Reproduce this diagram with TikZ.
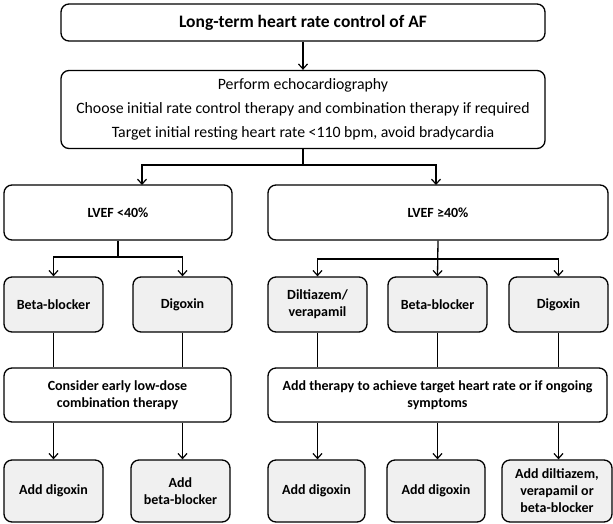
\documentclass[tikz,border=0pt]{standalone}
\usepackage{fontspec}
\setmainfont{Carlito}
\usetikzlibrary{arrows.meta}
\begin{document}
\begin{tikzpicture}[x=1pt,y=-1pt,
  box/.style={draw=black, line width=1.3pt, rounded corners=8pt, fill=white,
    align=center, inner sep=2pt, font=\bfseries\fontsize{14}{17}\selectfont},
  gbox/.style={box, fill=gray!12},
  conn/.style={line width=1.3pt},
  arr/.style={conn, -{Straight Barb[length=5pt,width=9pt,line width=1.2pt]}}
]
\useasboundingbox (0,0) rectangle (613,523);

\node[box, minimum width=484pt, minimum height=37pt, font=\bfseries\fontsize{17.5}{20}\selectfont] (top) at (303,22.5) {Long-term heart rate control of AF};
\node[box, minimum width=484pt, minimum height=78pt, font=\fontsize{15.8}{24}\selectfont] (echo) at (303,109.5)
  {Perform echocardiography\\Choose initial rate control therapy and combination therapy if required\\Target initial resting heart rate <110 bpm, avoid bradycardia};

\node[box, minimum width=228pt, minimum height=55pt] (lv1) at (118,212.5) {LVEF <40\%};
\node[box, minimum width=340pt, minimum height=55pt] (lv2) at (438,212.5) {LVEF ≥40\%};

\node[gbox, minimum width=99pt, minimum height=55pt] (bb1) at (53.5,304.5) {Beta-blocker};
\node[gbox, minimum width=99pt, minimum height=55pt] (dg1) at (182.5,304.5) {Digoxin};
\node[gbox, minimum width=99pt, minimum height=55pt] (dil) at (317.5,304.5) {Diltiazem/\\verapamil};
\node[gbox, minimum width=99pt, minimum height=55pt] (bb2) at (437.5,304.5) {Beta-blocker};
\node[gbox, minimum width=99pt, minimum height=55pt] (dg2) at (558.5,304.5) {Digoxin};

\node[box, minimum width=227pt, minimum height=54pt] (cons) at (117.5,395) {Consider early low-dose\\combination therapy};
\node[box, minimum width=339pt, minimum height=54pt] (addt) at (437.5,395) {Add therapy to achieve target heart rate or if ongoing\\symptoms};

\node[gbox, minimum width=99pt, minimum height=62pt] (a1) at (53.5,491) {Add digoxin};
\node[gbox, minimum width=99pt, minimum height=62pt] (a2) at (180.5,491) {Add\\beta-blocker};
\node[gbox, minimum width=97pt, minimum height=62pt] (a3) at (316.5,491) {Add digoxin};
\node[gbox, minimum width=98pt, minimum height=62pt] (a4) at (436,491) {Add digoxin};
\node[gbox, minimum width=110pt, minimum height=62pt] (a5) at (557,491) {Add diltiazem,\\verapamil or\\beta-blocker};

% connectors
\draw[arr] (top.south) -- (echo.north);

\coordinate (j1) at (303,165);
\coordinate (t1) at (142,185);
\coordinate (t2) at (436,185);
\draw[conn] (echo.south) -- (j1);
\draw[arr] (j1) -| (t1);
\draw[arr] (j1) -| (t2);

\coordinate (j2) at (118,257);
\draw[conn] (lv1.south) -- (j2);
\draw[arr] (j2) -| (bb1.north);
\draw[arr] (j2) -| (dg1.north);

\coordinate (j3) at (438,259);
\draw[arr] (lv2.south) -- (bb2.north);
\draw[arr] (j3) -| (dil.north);
\draw[arr] (j3) -| (dg2.north);

\draw[conn] (bb1.south) -- (bb1.south |- cons.north);
\draw[conn] (dg1.south) -- (dg1.south |- cons.north);
\draw[conn] (dil.south) -- (dil.south |- addt.north);
\draw[conn] (bb2.south) -- (bb2.south |- addt.north);
\draw[conn] (dg2.south) -- (dg2.south |- addt.north);

\draw[arr] (bb1.south |- cons.south) -- (bb1.south |- a1.north);
\draw[arr] (dg1.south |- cons.south) -- (dg1.south |- a2.north);
\draw[arr] (dil.south |- addt.south) -- (dil.south |- a3.north);
\draw[arr] (bb2.south |- addt.south) -- (bb2.south |- a4.north);
\draw[arr] (dg2.south |- addt.south) -- (dg2.south |- a5.north);
\end{tikzpicture}
\end{document}
